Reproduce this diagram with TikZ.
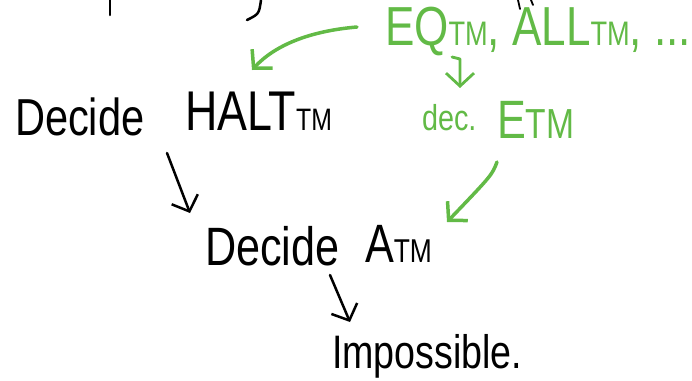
\documentclass[tikz,border=0pt]{standalone}
\usepackage{fontspec}
\setmainfont{Liberation Sans}[FakeStretch=0.8]
\usetikzlibrary{arrows.meta}
\definecolor{pengreen}{RGB}{98,186,70}
\newcommand{\pensize}[1]{\fontsize{#1}{#1}\selectfont}
\newcommand{\insize}[2]{{\pensize{#1}#2}}
\tikzset{
  ink/.style={black, line width=2.5pt, line cap=round, line join=round},
  greenink/.style={pengreen, line width=3.5pt, line cap=round, line join=round},
  hand/.style={-{Straight Barb[length=13pt,width=28pt]}},
  txt/.style={anchor=base west, inner sep=0pt, outer sep=0pt},
}

\begin{document}
\begin{tikzpicture}[x=1pt, y=-1pt]
  \useasboundingbox (0,0) rectangle (692,380);

  % cut-off strokes at the top edge
  \draw[ink] (110,0) -- (110,15);
  \draw[ink] (261,0) .. controls (259,14) .. (247,20);
  \draw[ink, line width=1.8pt] (518,0) -- (520,9) (531,0) -- (533,5);

  % black chain
  \node[txt, font=\pensize{52}] (decideH) at (15,135) {Decide};
  \node[txt, font=\pensize{56}] (halt) at (185,130) {HALT\insize{31}{TM}};
  \node[txt, font=\pensize{54}] (decideA) at (205,265) {Decide};
  \node[txt, font=\pensize{54}] (atm) at (365,262) {A\insize{33}{TM}};
  \node[txt, font=\pensize{47}] (imposs) at (332,368) {Impossible.};

  % green notes
  \node[txt, pengreen, font=\pensize{55}] (others) at (385,45)
    {EQ\insize{34}{TM}, ALL\insize{34}{TM}, ...};
  \node[txt, pengreen, font=\pensize{36}] (dec) at (422,130) {dec.};
  \node[txt, pengreen, font=\pensize{54}] (etm) at (497,138) {E\insize{42}{TM}};

  % arrow ends
  \coordinate (h1) at (167,153);
  \coordinate (h2) at (190,213);
  \coordinate (a1) at (330,275);
  \coordinate (a2) at (350,322);
  \coordinate (g1) at (357,27);
  \coordinate (g2) at (252,70);
  \coordinate (q1) at (452,57);
  \coordinate (q2) at (460,88);
  \coordinate (e1) at (497,162);
  \coordinate (e2) at (447,222);

  \draw[ink, hand] (h1) -- (h2);
  \draw[ink, hand] (a1) -- (a2);
  \draw[greenink, hand] (g1) .. controls (310,31) and (275,45) .. (g2);
  \draw[greenink, line width=2.8pt, hand] (q1) -- (460,59) -- (q2);
  \draw[greenink, hand] (e1) .. controls (492,175) .. (e2);
\end{tikzpicture}
\end{document}
